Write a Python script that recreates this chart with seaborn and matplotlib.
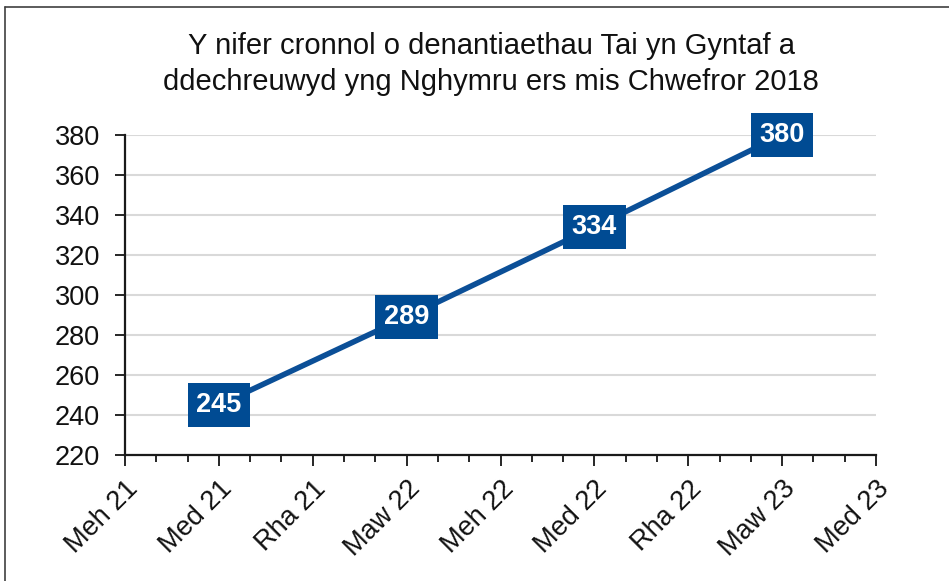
import matplotlib
matplotlib.use("Agg")
import matplotlib.pyplot as plt
from matplotlib.lines import Line2D
from matplotlib.ticker import MultipleLocator
import pandas as pd
import seaborn as sns

# --- DATA ---
TITLE = "Y nifer cronnol o denantiaethau Tai yn Gyntaf a\nddechreuwyd yng Nghymru ers mis Chwefror 2018"
# months counted from Mehefin 2021
MONTHS = [3, 9, 15, 21]
TENANCIES = [245, 289, 334, 380]
TICK_POS = [0, 3, 6, 9, 12, 15, 18, 21, 24]
TICK_LABELS = ["Meh 21", "Med 21", "Rha 21", "Maw 22", "Meh 22",
               "Med 22", "Rha 22", "Maw 23", "Med 23"]
Y_TICKS = [220, 240, 260, 280, 300, 320, 340, 360, 380]

LINE_COLOR = "#0B4F97"
BOX_COLOR = "#004B93"
TEXT_COLOR = "#111111"

sns.set_theme(style="white")
plt.rcParams['font.family'] = ['Liberation Sans', 'DejaVu Sans']

df = pd.DataFrame({"month": MONTHS, "value": TENANCIES})

fig = plt.figure(figsize=(9.49, 5.81), dpi=100)
ax = fig.add_axes([125 / 949, 1 - 455 / 581, (876 - 125) / 949, (455 - 135) / 581])

sns.lineplot(data=df, x="month", y="value", ax=ax, color=LINE_COLOR,
             linewidth=4, solid_capstyle="butt", zorder=3)

# data labels in boxes
for m, v in zip(MONTHS, TENANCIES):
    ax.text(m, v, str(v), ha="center", va="center", color="white",
            fontsize=19.5, fontweight="bold", zorder=4, clip_on=False,
            bbox=dict(boxstyle="square,pad=0.32", fc=BOX_COLOR, ec="none"))

ax.set_xlim(TICK_POS[0], TICK_POS[-1])
ax.set_ylim(Y_TICKS[0], Y_TICKS[-1])
ax.set_xticks(TICK_POS)
ax.set_xticklabels(TICK_LABELS, rotation=45, ha="right", rotation_mode="anchor",
                   fontsize=19.5, color=TEXT_COLOR)
ax.xaxis.set_minor_locator(MultipleLocator(1))
ax.set_yticks(Y_TICKS)
ax.tick_params(axis="y", labelsize=19.5, labelcolor=TEXT_COLOR, length=7,
               width=1.4, direction="out", left=True, pad=11)
ax.tick_params(axis="x", which="major", length=8, width=1.4, direction="out",
               bottom=True, pad=7)
ax.tick_params(axis="x", which="minor", length=5, width=1.4, direction="out",
               bottom=True)
ax.set_xlabel("")
ax.set_ylabel("")

ax.yaxis.grid(True, color="#D9D9D9", linewidth=1.5)
ax.set_axisbelow(True)
sns.despine(ax=ax)
for side in ["left", "bottom"]:
    ax.spines[side].set_color("#1a1a1a")
    ax.spines[side].set_linewidth(1.6)

fig.text(491 / 949, 1 - 64 / 581, TITLE, ha="center", va="center",
         fontsize=21, color=TEXT_COLOR, linespacing=1.33)

# outer chart frame (top and left edges visible)
fig.add_artist(Line2D([5 / 949, 1.0], [1 - 7 / 581, 1 - 7 / 581],
                      transform=fig.transFigure, color="#404040", linewidth=1.2))
fig.add_artist(Line2D([5 / 949, 5 / 949], [0.0, 1 - 7 / 581],
                      transform=fig.transFigure, color="#404040", linewidth=1.2))

fig.savefig("out.png", dpi=100)
